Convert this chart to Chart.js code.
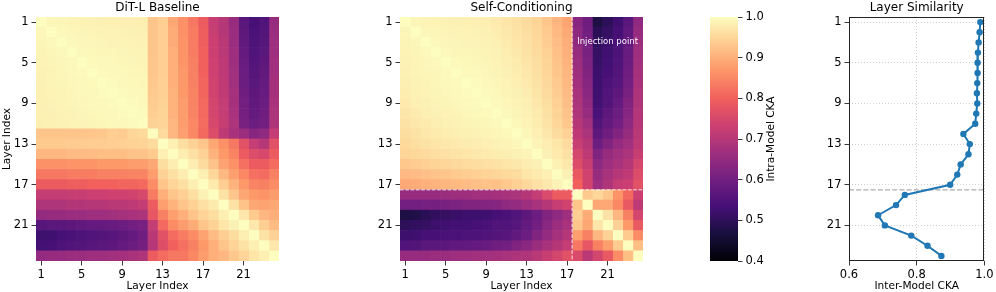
<!DOCTYPE html>
<html><head><meta charset="utf-8">
<script src="https://cdn.jsdelivr.net/npm/chart.js@4.4.1/dist/chart.umd.min.js"></script>
<style>
html,body{margin:0;padding:0;background:#fff;}
#wrap{position:relative;width:996px;height:292px;overflow:hidden;background:#fff;}
canvas{position:absolute;left:0;top:0;}
</style></head><body>
<div id="wrap">
<canvas id="hm1" width="996" height="292"></canvas>
<canvas id="hm2" width="996" height="292"></canvas>
<canvas id="cbar" width="996" height="292"></canvas>
<canvas id="line" width="996" height="292"></canvas>
</div>
<script>
// ---------------- DATA ----------------
const layers = [1,2,3,4,5,6,7,8,9,10,11,12,13,14,15,16,17,18,19,20,21,22,23,24];
const tickLayers = [1,5,9,13,17,21];
const cbarTicks = [0.4,0.5,0.6,0.7,0.8,0.9,1.0];
const cbarMin = 0.4, cbarMax = 1.0;
const ckaTicks = [0.6,0.8,1.0];
const injectionBoundary = 17.5;
const injectionLabel = 'Injection point';
const injectionLabelPos = {col: 21, row: 3};

const interModelCKA = [0.988,0.986,0.983,0.981,0.980,0.980,0.979,0.978,0.979,0.976,0.973,0.938,
                       0.957,0.953,0.930,0.920,0.899,0.765,0.739,0.686,0.706,0.784,0.832,0.873];

const baselineCKA = [
 [1.00,0.992,0.99,0.988,0.987,0.986,0.985,0.984,0.983,0.983,0.982,0.928,0.94,0.89,0.86,0.83,0.79,0.72,0.70,0.655,0.565,0.535,0.55,0.655],
 [0.992,1.00,0.993,0.991,0.99,0.989,0.988,0.987,0.986,0.985,0.984,0.928,0.94,0.895,0.86,0.835,0.795,0.725,0.70,0.66,0.57,0.54,0.555,0.66],
 [0.99,0.993,1.00,0.994,0.992,0.991,0.99,0.989,0.988,0.987,0.986,0.928,0.94,0.895,0.865,0.835,0.795,0.73,0.705,0.66,0.575,0.545,0.56,0.665],
 [0.988,0.991,0.994,1.00,0.994,0.993,0.992,0.991,0.99,0.989,0.988,0.928,0.94,0.90,0.865,0.835,0.80,0.73,0.705,0.665,0.58,0.55,0.565,0.665],
 [0.987,0.99,0.992,0.994,1.00,0.995,0.994,0.993,0.992,0.99,0.989,0.93,0.94,0.90,0.865,0.84,0.80,0.735,0.71,0.665,0.585,0.555,0.57,0.67],
 [0.986,0.989,0.991,0.993,0.995,1.00,0.995,0.994,0.993,0.992,0.99,0.93,0.94,0.90,0.87,0.84,0.80,0.735,0.71,0.67,0.59,0.56,0.575,0.67],
 [0.985,0.988,0.99,0.992,0.994,0.995,1.00,0.996,0.994,0.993,0.992,0.932,0.942,0.90,0.87,0.84,0.805,0.74,0.715,0.67,0.59,0.565,0.58,0.675],
 [0.984,0.987,0.989,0.991,0.993,0.994,0.996,1.00,0.996,0.994,0.993,0.935,0.942,0.905,0.87,0.845,0.805,0.74,0.715,0.675,0.595,0.57,0.585,0.675],
 [0.983,0.986,0.988,0.99,0.992,0.993,0.994,0.996,1.00,0.996,0.994,0.937,0.944,0.905,0.875,0.845,0.81,0.745,0.72,0.675,0.60,0.575,0.59,0.68],
 [0.983,0.985,0.987,0.989,0.99,0.992,0.993,0.994,0.996,1.00,0.996,0.94,0.946,0.905,0.875,0.845,0.81,0.745,0.72,0.68,0.605,0.58,0.595,0.685],
 [0.982,0.984,0.986,0.988,0.989,0.99,0.992,0.993,0.994,0.996,1.00,0.945,0.948,0.91,0.875,0.85,0.815,0.75,0.725,0.685,0.61,0.59,0.60,0.69],
 [0.928,0.928,0.928,0.928,0.928,0.93,0.932,0.94,0.937,0.95,0.954,1.00,0.955,0.91,0.88,0.85,0.81,0.76,0.71,0.68,0.66,0.63,0.645,0.72],
 [0.935,0.935,0.935,0.937,0.937,0.938,0.938,0.94,0.942,0.944,0.946,0.955,1.00,0.983,0.96,0.945,0.93,0.89,0.86,0.83,0.77,0.72,0.70,0.77],
 [0.91,0.91,0.91,0.915,0.915,0.915,0.92,0.92,0.92,0.925,0.925,0.935,0.983,1.00,0.98,0.963,0.945,0.905,0.87,0.845,0.79,0.76,0.75,0.79],
 [0.86,0.86,0.86,0.865,0.865,0.865,0.87,0.87,0.87,0.875,0.875,0.89,0.96,0.98,1.00,0.98,0.955,0.925,0.885,0.86,0.82,0.79,0.79,0.815],
 [0.83,0.83,0.83,0.835,0.835,0.835,0.84,0.84,0.84,0.845,0.845,0.875,0.945,0.963,0.98,1.00,0.982,0.95,0.912,0.88,0.85,0.82,0.815,0.84],
 [0.79,0.79,0.79,0.795,0.795,0.80,0.80,0.80,0.805,0.805,0.81,0.855,0.93,0.948,0.962,0.982,1.00,0.975,0.94,0.905,0.87,0.845,0.84,0.855],
 [0.72,0.72,0.72,0.725,0.725,0.73,0.73,0.735,0.735,0.74,0.75,0.835,0.90,0.928,0.942,0.962,0.985,1.00,0.965,0.93,0.89,0.87,0.865,0.875],
 [0.69,0.69,0.69,0.695,0.695,0.70,0.70,0.705,0.705,0.71,0.72,0.79,0.88,0.905,0.928,0.944,0.963,0.976,1.00,0.965,0.925,0.89,0.885,0.89],
 [0.65,0.655,0.655,0.66,0.66,0.665,0.665,0.67,0.675,0.68,0.685,0.78,0.84,0.88,0.90,0.928,0.948,0.96,0.982,1.00,0.972,0.935,0.91,0.90],
 [0.56,0.565,0.565,0.57,0.575,0.58,0.58,0.585,0.59,0.60,0.61,0.72,0.81,0.855,0.875,0.895,0.928,0.943,0.97,0.985,1.00,0.972,0.94,0.915],
 [0.52,0.525,0.535,0.54,0.545,0.55,0.555,0.56,0.57,0.58,0.595,0.705,0.77,0.815,0.835,0.855,0.885,0.915,0.938,0.958,0.982,1.00,0.965,0.945],
 [0.53,0.535,0.545,0.55,0.555,0.56,0.565,0.57,0.58,0.59,0.605,0.70,0.765,0.80,0.82,0.84,0.87,0.90,0.928,0.948,0.965,0.982,1.00,0.972],
 [0.65,0.655,0.655,0.66,0.66,0.665,0.665,0.67,0.675,0.68,0.69,0.79,0.815,0.83,0.83,0.85,0.875,0.90,0.91,0.932,0.948,0.97,0.982,1.00]
];

const selfCondCKA = [
 [1.00,0.99,0.988,0.987,0.986,0.985,0.984,0.983,0.981,0.975,0.969,0.963,0.956,0.947,0.93,0.908,0.886, 0.63,0.595,0.475,0.50,0.525,0.565,0.645],
 [0.99,1.00,0.992,0.99,0.989,0.988,0.987,0.986,0.984,0.979,0.973,0.967,0.96,0.951,0.935,0.913,0.892, 0.64,0.60,0.495,0.51,0.535,0.575,0.655],
 [0.988,0.992,1.00,0.993,0.991,0.99,0.989,0.988,0.986,0.982,0.976,0.97,0.963,0.954,0.939,0.918,0.897, 0.645,0.605,0.505,0.52,0.54,0.58,0.66],
 [0.987,0.99,0.993,1.00,0.994,0.992,0.991,0.99,0.988,0.985,0.979,0.973,0.966,0.957,0.943,0.922,0.901, 0.655,0.61,0.51,0.525,0.545,0.585,0.665],
 [0.986,0.989,0.991,0.994,1.00,0.995,0.993,0.992,0.99,0.987,0.982,0.976,0.969,0.96,0.947,0.926,0.905, 0.66,0.615,0.515,0.53,0.55,0.59,0.67],
 [0.984,0.988,0.99,0.992,0.995,1.00,0.995,0.994,0.992,0.989,0.985,0.979,0.972,0.963,0.95,0.93,0.909, 0.665,0.62,0.52,0.535,0.555,0.595,0.675],
 [0.982,0.986,0.989,0.991,0.993,0.995,1.00,0.996,0.994,0.991,0.987,0.982,0.975,0.966,0.953,0.934,0.913, 0.67,0.63,0.525,0.545,0.56,0.60,0.68],
 [0.979,0.984,0.987,0.99,0.992,0.994,0.996,1.00,0.996,0.993,0.989,0.985,0.978,0.969,0.957,0.938,0.917, 0.68,0.635,0.525,0.55,0.57,0.61,0.685],
 [0.975,0.981,0.985,0.988,0.99,0.992,0.994,0.996,1.00,0.995,0.991,0.987,0.981,0.972,0.96,0.942,0.921, 0.685,0.645,0.53,0.555,0.58,0.62,0.69],
 [0.971,0.977,0.982,0.985,0.987,0.989,0.991,0.993,0.995,1.00,0.994,0.99,0.984,0.976,0.964,0.946,0.925, 0.69,0.655,0.54,0.57,0.59,0.63,0.695],
 [0.966,0.972,0.977,0.981,0.984,0.986,0.988,0.99,0.992,0.994,1.00,0.993,0.987,0.979,0.967,0.95,0.932, 0.70,0.67,0.555,0.58,0.60,0.64,0.70],
 [0.96,0.966,0.972,0.976,0.979,0.982,0.984,0.986,0.988,0.991,0.993,1.00,0.991,0.983,0.972,0.958,0.945, 0.71,0.685,0.57,0.595,0.62,0.655,0.705],
 [0.954,0.96,0.965,0.969,0.972,0.975,0.978,0.98,0.983,0.986,0.989,0.992,1.00,0.988,0.98,0.97,0.957, 0.725,0.70,0.59,0.62,0.65,0.67,0.71],
 [0.947,0.952,0.957,0.961,0.964,0.967,0.97,0.973,0.976,0.979,0.982,0.985,0.988,1.00,0.985,0.975,0.964, 0.745,0.71,0.62,0.655,0.67,0.685,0.725],
 [0.932,0.937,0.942,0.946,0.95,0.953,0.956,0.959,0.962,0.965,0.969,0.973,0.98,0.985,1.00,0.983,0.973, 0.76,0.725,0.64,0.665,0.68,0.70,0.745],
 [0.912,0.917,0.922,0.926,0.93,0.934,0.938,0.942,0.946,0.95,0.954,0.958,0.97,0.975,0.983,1.00,0.985, 0.785,0.74,0.655,0.68,0.70,0.715,0.76],
 [0.891,0.896,0.901,0.905,0.909,0.913,0.917,0.921,0.925,0.922,0.932,0.942,0.953,0.963,0.973,0.986,1.00, 0.80,0.74,0.665,0.69,0.72,0.73,0.77],
 [0.655,0.655,0.655,0.655,0.66,0.665,0.665,0.67,0.67,0.675,0.68,0.685,0.70,0.72,0.755,0.79,0.79, 1.00,0.935,0.95,0.93,0.865,0.81,0.73],
 [0.60,0.60,0.605,0.605,0.61,0.615,0.62,0.62,0.625,0.63,0.645,0.65,0.665,0.68,0.70,0.725,0.74, 0.93,1.00,0.89,0.89,0.85,0.785,0.71],
 [0.475,0.48,0.495,0.505,0.51,0.515,0.52,0.52,0.525,0.535,0.54,0.55,0.57,0.59,0.62,0.645,0.665, 0.94,0.895,1.00,0.965,0.91,0.84,0.745],
 [0.50,0.505,0.51,0.52,0.525,0.53,0.53,0.535,0.54,0.55,0.55,0.56,0.58,0.60,0.635,0.66,0.68, 0.93,0.89,0.97,1.00,0.945,0.87,0.785],
 [0.52,0.525,0.535,0.535,0.54,0.54,0.545,0.545,0.55,0.555,0.56,0.575,0.59,0.62,0.65,0.675,0.70, 0.88,0.84,0.91,0.945,1.00,0.935,0.855],
 [0.55,0.555,0.565,0.565,0.57,0.575,0.575,0.58,0.585,0.595,0.60,0.62,0.635,0.66,0.68,0.70,0.72, 0.83,0.78,0.84,0.875,0.935,1.00,0.92],
 [0.655,0.655,0.655,0.66,0.66,0.665,0.665,0.67,0.67,0.675,0.68,0.685,0.69,0.705,0.725,0.745,0.77, 0.755,0.705,0.745,0.785,0.855,0.92,1.00]
];

// ---------------- STYLE ----------------
const FONT = '"DejaVu Sans", "Liberation Sans", sans-serif';
const tickFont = {family: FONT, size: 11.5};
const labelFont = {family: FONT, size: 10.6};
Chart.defaults.font.family = FONT;
Chart.defaults.color = '#000';

const magmaStops = ['#000004','#180F3E','#451077','#721F81','#9F2F7F','#CD4071','#F1605D','#FD9567','#FEC98D','#FCFDBF'];
const magmaRGB = magmaStops.map(h => [parseInt(h.slice(1,3),16), parseInt(h.slice(3,5),16), parseInt(h.slice(5,7),16)]);
function cmap(v) {
  let t = (v - cbarMin) / (cbarMax - cbarMin);
  t = Math.max(0, Math.min(1, t));
  const p = t * (magmaRGB.length - 1);
  const i = Math.min(Math.floor(p), magmaRGB.length - 2);
  const f = p - i;
  const a = magmaRGB[i], b = magmaRGB[i + 1];
  return 'rgb(' + [0,1,2].map(k => Math.round(a[k] + (b[k] - a[k]) * f)).join(',') + ')';
}

const titlePlugin = {
  id: 'ptitle',
  afterDraw(chart, args, opts) {
    if (!opts || !opts.text) return;
    const {ctx, chartArea: a} = chart;
    ctx.save();
    ctx.font = '12px ' + FONT;
    ctx.fillStyle = '#000';
    ctx.textAlign = 'center';
    ctx.textBaseline = 'alphabetic';
    ctx.fillText(opts.text, (a.left + a.right) / 2, 11.3);
    ctx.restore();
  }
};

function rowBoundary(yScale, boundary) {
  const lo = Math.floor(boundary) - 1, hi = lo + 1; // category indices
  return (yScale.getPixelForValue(lo) + yScale.getPixelForValue(hi)) / 2;
}

const injectionPlugin = {
  id: 'injection',
  afterDatasetsDraw(chart) {
    const {ctx, chartArea: a, scales: {x, y}} = chart;
    const xp = x.getPixelForValue(injectionBoundary);
    const yp = rowBoundary(y, injectionBoundary);
    ctx.save();
    ctx.strokeStyle = 'rgba(255,255,255,0.85)';
    ctx.lineWidth = 1;
    ctx.setLineDash([3.7, 1.6]);
    ctx.beginPath();
    ctx.moveTo(xp, a.top); ctx.lineTo(xp, a.bottom);
    ctx.moveTo(a.left, yp); ctx.lineTo(a.right, yp);
    ctx.stroke();
    ctx.setLineDash([]);
    ctx.font = '8.5px ' + FONT;
    ctx.fillStyle = 'rgba(255,255,255,0.95)';
    ctx.textAlign = 'center';
    ctx.textBaseline = 'alphabetic';
    const ty = y.getPixelForValue(layers.indexOf(injectionLabelPos.row)) + 1.3;
    ctx.fillText(injectionLabel, x.getPixelForValue(injectionLabelPos.col), ty);
    ctx.restore();
  }
};

function makeHeatmap(id, matrix, title, padLeft, padRight, yWidth, yTitle, extra) {
  const datasets = layers.map((col, j) => ({
    data: layers.map(() => [col - 0.5, col + 0.5]),
    backgroundColor: matrix.map(row => cmap(row[j])),
    borderWidth: 0,
    grouped: false,
    barPercentage: 1,
    categoryPercentage: 1
  }));
  return new Chart(document.getElementById(id), {
    type: 'bar',
    data: {labels: layers.map(String), datasets},
    options: {
      responsive: false, animation: false, events: [], devicePixelRatio: 1,
      indexAxis: 'y',
      layout: {padding: {left: padLeft, right: padRight, top: 17, bottom: 0}},
      plugins: {legend: {display: false}, tooltip: {enabled: false}, ptitle: {text: title}},
      scales: {
        x: {
          type: 'linear', min: 0.5, max: 24.5,
          afterBuildTicks: s => { s.ticks = tickLayers.map(v => ({value: v})); },
          afterFit: s => { s.height = 31; },
          ticks: {font: tickFont, color: '#000', padding: 2.5, autoSkip: false, maxRotation: 0, callback: v => String(v)},
          grid: {drawOnChartArea: false, drawTicks: true, tickLength: 4.5, tickColor: '#222', tickWidth: 0.9},
          border: {display: false},
          title: {display: true, text: 'Layer Index', font: labelFont, color: '#000', padding: {top: 0, bottom: -1}}
        },
        y: {
          type: 'category', offset: true,
          afterFit: s => { s.width = yWidth; },
          ticks: {font: tickFont, color: '#000', padding: 3, autoSkip: false,
                  callback: (v, i) => tickLayers.includes(layers[i]) ? String(layers[i]) : ''},
          grid: {offset: false, drawOnChartArea: false, drawTicks: true, tickLength: 4.5, tickWidth: 0.9,
                 tickColor: ctx => tickLayers.includes(layers[ctx.index]) ? '#222' : 'rgba(0,0,0,0)'},
          border: {display: false},
          title: {display: !!yTitle, text: yTitle || '', font: labelFont, color: '#000', padding: {top: 1, bottom: 0}}
        }
      }
    },
    plugins: [titlePlugin].concat(extra || [])
  });
}

makeHeatmap('hm1', baselineCKA, 'DiT-L Baseline', 0, 996 - 279, 36, 'Layer Index');
makeHeatmap('hm2', selfCondCKA, 'Self-Conditioning', 370, 996 - 643, 30, null, [injectionPlugin]);

// ---------------- COLORBAR ----------------
const cbarLabelPlugin = {
  id: 'cbarLabel',
  afterDraw(chart) {
    const {ctx, chartArea: a} = chart;
    ctx.save();
    ctx.translate(771.5, (a.top + a.bottom) / 2);
    ctx.rotate(-Math.PI / 2);
    ctx.font = '10.6px ' + FONT;
    ctx.fillStyle = '#000';
    ctx.textAlign = 'center';
    ctx.textBaseline = 'middle';
    ctx.fillText('Intra-Model CKA', 0, 0);
    ctx.restore();
  }
};
new Chart(document.getElementById('cbar'), {
  type: 'bar',
  data: {labels: ['cka'], datasets: [{
    data: [[cbarMin, cbarMax]],
    barPercentage: 1, categoryPercentage: 1, borderWidth: 0,
    backgroundColor: (c) => {
      const a = c.chart.chartArea;
      if (!a) return 'rgba(0,0,0,0)';
      const g = c.chart.ctx.createLinearGradient(0, a.bottom, 0, a.top);
      magmaStops.forEach((col, i) => g.addColorStop(i / (magmaStops.length - 1), col));
      return g;
    }
  }]},
  options: {
    responsive: false, animation: false, events: [], devicePixelRatio: 1,
    layout: {padding: {left: 710, right: 996 - 738 - 30, top: 17, bottom: 31}},
    plugins: {legend: {display: false}, tooltip: {enabled: false}},
    scales: {
      x: {display: false},
      y: {
        position: 'right', min: cbarMin, max: cbarMax,
        afterBuildTicks: s => { s.ticks = cbarTicks.map(v => ({value: v})); },
        afterFit: s => { s.width = 30; },
        ticks: {font: tickFont, color: '#000', padding: 3, callback: v => Number(v).toFixed(1)},
        grid: {drawOnChartArea: false, drawTicks: true, tickLength: 4.5, tickColor: '#222', tickWidth: 0.9},
        border: {display: false}
      }
    }
  },
  plugins: [cbarLabelPlugin]
});

// ---------------- LINE PLOT ----------------
const framePlugin = {
  id: 'frame',
  afterDatasetsDraw(chart) {
    const {ctx, chartArea: a} = chart;
    ctx.save();
    ctx.strokeStyle = '#222';
    ctx.lineWidth = 1;
    ctx.strokeRect(Math.round(a.left) + 0.5, Math.round(a.top) + 0.5, Math.round(a.right - a.left) - 1, Math.round(a.bottom - a.top) - 1);
    ctx.restore();
  }
};
new Chart(document.getElementById('line'), {
  type: 'scatter',
  data: {datasets: [
    {data: interModelCKA.map((v, i) => ({x: v, y: layers[i]})), showLine: true,
     borderColor: '#1f77b4', backgroundColor: '#1f77b4', borderWidth: 2,
     pointRadius: 3.2, pointBorderWidth: 0, pointBackgroundColor: '#1f77b4'},
    {data: [{x: ckaTicks[0], y: injectionBoundary}, {x: ckaTicks[ckaTicks.length - 1], y: injectionBoundary}],
     showLine: true, borderColor: 'rgba(150,150,150,0.8)', borderWidth: 1.2, borderDash: [5, 2.2], pointRadius: 0}
  ]},
  options: {
    responsive: false, animation: false, events: [], devicePixelRatio: 1,
    layout: {padding: {left: 849 - 30, right: 996 - 988, top: 17, bottom: 0}},
    plugins: {legend: {display: false}, tooltip: {enabled: false}, ptitle: {text: 'Layer Similarity'}},
    scales: {
      x: {
        type: 'linear', min: 0.6, max: 1.0,
        afterBuildTicks: s => { s.ticks = ckaTicks.map(v => ({value: v})); },
        afterFit: s => { s.height = 31; },
        ticks: {font: tickFont, color: '#000', padding: 2.5, maxRotation: 0, callback: v => Number(v).toFixed(1)},
        grid: {color: 'rgba(176,176,176,0.75)', lineWidth: 0.8, drawTicks: true, tickLength: 4.5, tickColor: '#222', tickWidth: 0.9, tickBorderDash: []},
        border: {display: false, dash: [1, 2]},
        title: {display: true, text: 'Inter-Model CKA', font: labelFont, color: '#000', padding: {top: 0, bottom: -1}}
      },
      y: {
        type: 'linear', min: 0.5, max: 24.5, reverse: true,
        afterBuildTicks: s => { s.ticks = tickLayers.map(v => ({value: v})); },
        afterFit: s => { s.width = 30; },
        ticks: {font: tickFont, color: '#000', padding: 3, callback: v => String(v)},
        grid: {color: 'rgba(176,176,176,0.75)', lineWidth: 0.8, drawTicks: true, tickLength: 4.5, tickColor: '#222', tickWidth: 0.9, tickBorderDash: []},
        border: {display: false, dash: [1, 2]}
      }
    }
  },
  plugins: [titlePlugin, framePlugin]
});
</script>
</body></html>
